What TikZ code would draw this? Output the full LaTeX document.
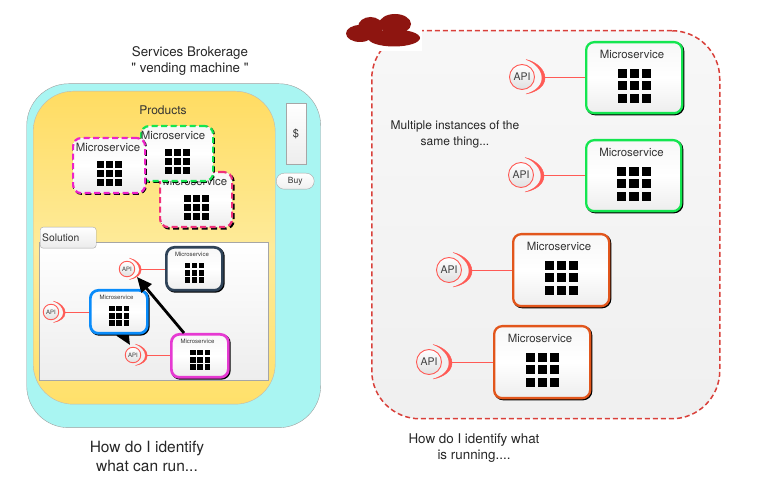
\documentclass[tikz,border=0pt]{standalone}
\usepackage{fontspec}
\setmainfont{TeX Gyre Heros}
\newfontfamily\plainquote{TeX Gyre Heros}
\usetikzlibrary{math}
\usetikzlibrary{shadows}
\usetikzlibrary{arrows.meta}

\tikzset{
	machine/.style = {draw=gray!75, fill=cyanpale, rounded corners=42, anchor=north west, minimum width=294, minimum height=344},
	products/.style = {draw=gray!55, rounded corners=40, anchor=north west, minimum width=242, minimum height=313, top color=yellowtop, bottom color=yellowlow, middle color=yellowmid},
	panel/.style = {draw=gray!70, anchor=north west, top color=white, bottom color=black!7},
	tab/.style = {draw=gray!70, rounded corners=3, anchor=north west, top color=white, bottom color=black!8},
	cloudpanel/.style = {draw=dashred, line width=1.5, dash pattern=on 5 off 3, rounded corners=48, anchor=north west, minimum width=348, minimum height=388, top color=black!3, bottom color=black!6},
	msnode/.style = {line width=2.3, rounded corners=8, anchor=north west, top color=black!3, bottom color=black!7, middle color=white, copy shadow={shadow xshift=1pt, shadow yshift=-1pt, fill=black, draw=black}},
	msdash/.style = {line width=2.2, rounded corners=8, anchor=north west, dash pattern=on 6 off 3.5, top color=black!3, bottom color=black!7, middle color=white, copy shadow={shadow xshift=#1, shadow yshift=-#1, fill=none, draw=black, dash pattern=on 6 off 3.5}},
	apinode/.style = {circle, draw=apired, line width=.9, inner sep=0, text=black!75, top color=white, bottom color=black!12},
	apilink/.style = {draw=apired, line width=1},
	bigarrow/.style = {draw=black, line width=2.8, -{Triangle[length=15,width=13]}},
	caption/.style = {align=center, text=black!85}
}
\definecolor{cyanpale}{HTML}{A9F5F2}
\definecolor{yellowtop}{HTML}{FFDC62}
\definecolor{yellowmid}{HTML}{FEEB9A}
\definecolor{yellowlow}{HTML}{FFE06A}
\definecolor{dashred}{HTML}{D9403A}
\definecolor{apired}{HTML}{FF5A55}
\definecolor{cloudred}{HTML}{8E1510}
\definecolor{gogreen}{HTML}{14E650}
\definecolor{rustorange}{HTML}{E2561C}
\definecolor{slate}{HTML}{2F4358}
\definecolor{skyblue}{HTML}{0A8CFA}
\definecolor{magentaline}{HTML}{E63AD2}
\definecolor{hotpink}{HTML}{EE22C8}
\definecolor{rosepink}{HTML}{F0307A}

% name, style, left, top, width, height
\newcommand{\msbox}[6]{
	\node[#2, minimum width=#5-2, minimum height=#6-2] (#1) at (#3,#4) {};
	\node[font=\fontsize{\mssize}{\mssize}\selectfont, text=black!80] (#1-t) at (#3+#5/2+\tdx,#4+\tdy) {Microservice};
	\foreach \i in {0,1,2} {
		\foreach \j in {0,1,2} {
			\fill[black] (#3+#5/2+.5-1.5*\pitch+\i*\pitch+\gap/2,#4+\gdy+\j*\pitch) rectangle +(\pitch-\gap,\pitch-\gap);
		}
	}
}
% name, x, y, scale, font size
\newcommand{\apiblob}[5]{
	\begin{scope}[shift={(#2,#3)}, scale=#4]
		\filldraw[apired, line width=.4] (4,-17.5) .. controls (15,-15) and (23,-7) .. (23,1) .. controls (23,9) and (15,15) .. (4,17) .. controls (13,14.5) and (20,9) .. (20,1) .. controls (20,-7) and (13,-14.5) .. cycle;
		\coordinate (#1-e) at (23,1);
	\end{scope}
	\node[apinode, minimum size=#4*25, font=\fontsize{#5}{#5}\selectfont] (#1) at (#2,#3) {API};
}

\begin{document}
\begin{tikzpicture}[x=1pt, y=-1pt]
	\useasboundingbox (0,0) rectangle (764,486);

	% vending machine
	\node[caption, font=\plainquote\fontsize{13.3}{16}\selectfont] (title) at (190,61) {Services Brokerage\\" vending machine "};
	\node[machine] (machine) at (26.5,83.5) {};
	\node[products] (products) at (33,91) {};
	\node[font=\fontsize{12}{12}\selectfont, text=black!80] (productsT) at (163,110) {Products};
	\node[panel, minimum width=20, minimum height=61] (coin) at (286,103) {};
	\node[font=\fontsize{11}{11}\selectfont, text=black!80] (coinT) at (296,134) {\$};
	\node[draw=gray!70, rounded corners=8, top color=white, bottom color=black!6, anchor=north west, minimum width=38, minimum height=16, font=\fontsize{8.5}{8.5}\selectfont, text=black!80, inner sep=0] (buy) at (276,173) {Buy};

	% products, back to front
	\tikzmath{\tdx = -1; \tdy = 10; \gdy = 24; \pitch = 9.1; \gap = 2; \mssize = 11.4;};
	\msbox{msrose}{msdash=1.5pt, draw=rosepink}{159}{171}{74}{57}
	\tikzmath{\tdx = -4;};
	\msbox{msgreen}{msdash=.7pt, draw=gogreen}{140}{125}{74}{57}
	\tikzmath{\tdx = -1;};
	\msbox{mspink}{msdash=.7pt, draw=hotpink}{72}{137}{74}{57}

	% solution
	\node[panel, minimum width=229, minimum height=138] (solution) at (39,242) {};
	\node[tab, minimum width=56, minimum height=21, font=\fontsize{10.3}{10.3}\selectfont, text=black!80, inner sep=0, text width=52, align=left] (solutionT) at (40,227) {Solution};

	\apiblob{apiS}{127}{269}{.62}{6}
	\apiblob{apiB}{51}{312}{.62}{6}
	\apiblob{apiM}{133}{355}{.62}{6}

	\coordinate (tailA) at (184,333);
	\coordinate (tipA) at (137,277);
	\coordinate (tailB) at (121,330);
	\coordinate (tipB) at (130,345);
	\draw[bigarrow] (tailB) -- (tipB);

	\tikzmath{\tdx = -2; \tdy = 8.5; \gdy = 17; \pitch = 7.2; \gap = 1.8; \mssize = 6;};
	\msbox{msslate}{msnode, line width=2.7, draw=slate}{165}{246}{58}{45}
	\msbox{msblue}{msnode, line width=2.7, draw=skyblue}{89}{289}{59}{45}
	\msbox{msmag}{msnode, line width=2.7, draw=magentaline}{170}{333}{59}{45}

	\draw[apilink] (apiS-e) -- (apiS-e -| msslate.west);
	\draw[apilink] (apiB-e) -- (apiB-e -| msblue.west);
	\draw[apilink] (apiM-e) -- (apiM-e -| msmag.west);
	\draw[bigarrow] (tailA) -- (tipA);

	\node[caption, font=\fontsize{15.5}{19}\selectfont] (leftQ) at (147,456.5) {How do I identify\\what can run...};

	% running instances
	\node[cloudpanel] (cloudbox) at (371,30) {};
	\fill[white] (345,12) rectangle (421.5,51);
	\fill[cloudred] (360,33.5) ellipse (14 and 8.5);
	\fill[cloudred] (394,38) ellipse (26 and 8.5);
	\fill[cloudred] (370.5,27) ellipse (12.5 and 10);
	\fill[cloudred] (395,24) ellipse (16 and 10);

	\node[caption, font=\fontsize{12}{16}\selectfont] (sameT) at (455,134) {Multiple instances of the\\same thing...};
	\node[caption, font=\fontsize{13.4}{16}\selectfont] (rightQ) at (474,448) {How do I identify what\\is running....};

	\tikzmath{\tdx = -2; \tdy = 13; \gdy = 28; \pitch = 12.3; \gap = 3.2; \mssize = 11.4;};
	\msbox{msA}{msnode, draw=gogreen}{585}{41}{98}{73}
	\msbox{msB}{msnode, draw=gogreen}{585}{139}{97}{73}
	\msbox{msC}{msnode, draw=rustorange}{512}{233}{98}{74}
	\msbox{msD}{msnode, draw=rustorange}{493}{325}{98}{74}

	\apiblob{apiA}{522}{77}{1}{10.5}
	\apiblob{apiBb}{521}{175}{1}{10.5}
	\apiblob{apiC}{449}{270}{1}{10.5}
	\apiblob{apiD}{429}{362}{1}{10.5}

	\draw[apilink] (apiA-e) -- (apiA-e -| msA.west);
	\draw[apilink] (apiBb-e) -- (apiBb-e -| msB.west);
	\draw[apilink] (apiC-e) -- (apiC-e -| msC.west);
	\draw[apilink] (apiD-e) -- (apiD-e -| msD.west);
\end{tikzpicture}
\end{document}
